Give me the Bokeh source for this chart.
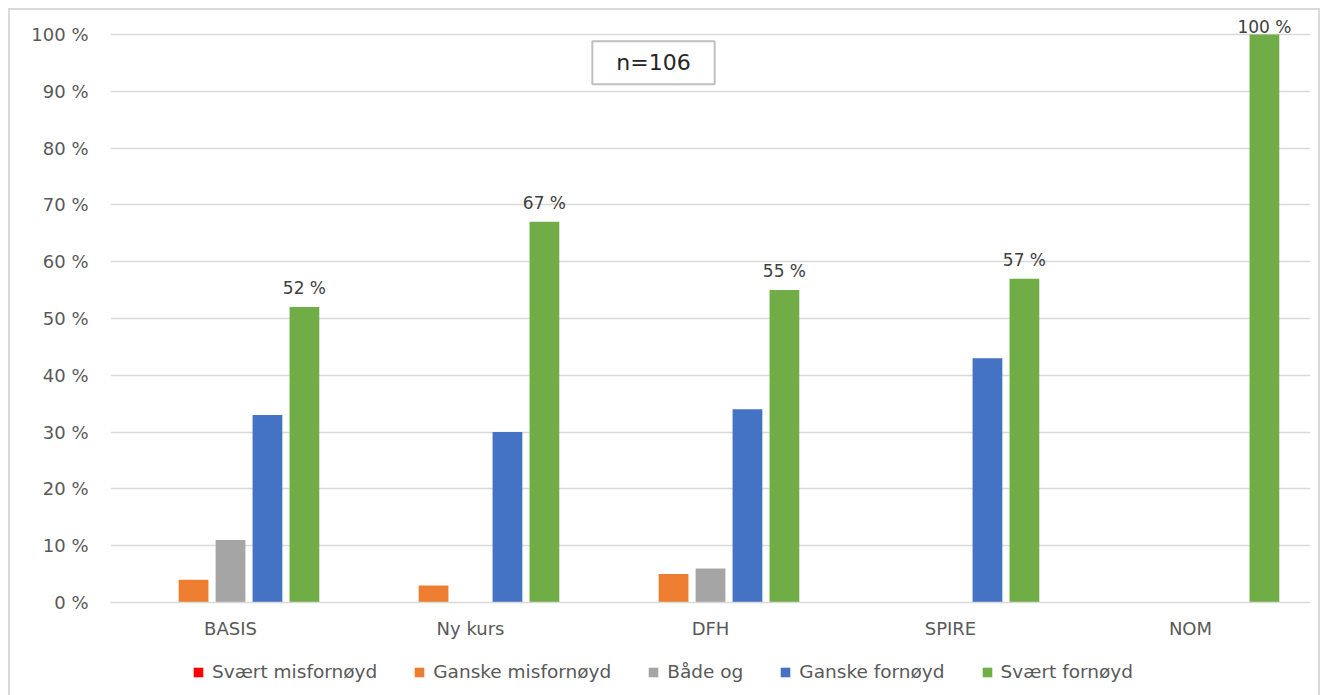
from bokeh.plotting import figure
from bokeh.layouts import column
from bokeh.models import (ColumnDataSource, FactorRange, Range1d, FixedTicker,
                          Legend, LegendItem, LabelSet, Label)
from bokeh.core.properties import value
from bokeh.transform import dodge
from bokeh.embed import file_html
from bokeh.resources import INLINE

categories = ["BASIS", "Ny kurs", "DFH", "SPIRE", "NOM"]
series_names = ["Svært misfornøyd", "Ganske misfornøyd", "Både og", "Ganske fornøyd", "Svært fornøyd"]
svaert_misfornoyd = [0, 0, 0, 0, 0]
ganske_misfornoyd = [4, 3, 5, 0, 0]
baade_og = [11, 0, 6, 0, 0]
ganske_fornoyd = [33, 30, 34, 43, 0]
svaert_fornoyd = [52, 67, 55, 57, 100]
green_labels = ["52 %", "67 %", "55 %", "57 %", "100 %"]
y_ticks = [0, 10, 20, 30, 40, 50, 60, 70, 80, 90, 100]
y_tick_labels = ["0 %", "10 %", "20 %", "30 %", "40 %", "50 %", "60 %", "70 %", "80 %", "90 %", "100 %"]
annotation_text = "n=106"

colors = ["#FF0000", "#ED7D31", "#A5A5A5", "#4472C4", "#70AD47"]
FONT = "DejaVu Sans"

# data labels are kept inside the plot area (as the original chart does)
LABEL_CAP = 98
label_anchor = [min(v, LABEL_CAP) for v in svaert_fornoyd]

source = ColumnDataSource(dict(
    cat=categories,
    s0=svaert_misfornoyd,
    s1=ganske_misfornoyd,
    s2=baade_og,
    s3=ganske_fornoyd,
    s4=svaert_fornoyd,
    lbl=green_labels,
    lbl_y=label_anchor,
))

W = 1308
p = figure(
    width=W, height=636,
    x_range=FactorRange(*categories, range_padding=0),
    y_range=Range1d(0, 103.5),
    output_backend="svg", toolbar_location=None,
    min_border_left=100, min_border_right=8, min_border_top=4, min_border_bottom=44,
)
p.background_fill_color = "white"
p.border_fill_color = "white"
p.outline_line_color = None

step = 0.154
offsets = [-2 * step, -step, 0, step, 2 * step]
for i, col in enumerate(colors):
    p.vbar(x=dodge("cat", offsets[i], range=p.x_range), top="s%d" % i, width=0.124,
           bottom=0, source=source, fill_color=col, line_color=None)

labels = LabelSet(x=dodge("cat", offsets[4], range=p.x_range), y="lbl_y", text="lbl",
                  source=source, text_align="center", text_baseline="alphabetic",
                  y_offset=13, text_font=value(FONT), text_font_size="17px", text_color="#404040")
p.add_layout(labels)

box = Label(x=2.2625, y=95.0, text=annotation_text, text_align="center", text_baseline="middle",
            text_font=FONT, text_font_size="22px", text_color="#262626",
            border_line_color="#bfbfbf", border_line_width=2, background_fill_color="white",
            padding=dict(left=24, right=24, top=9, bottom=9))
p.add_layout(box)

p.yaxis.ticker = FixedTicker(ticks=y_ticks)
p.yaxis.major_label_overrides = {t: l for t, l in zip(y_ticks, y_tick_labels)}
p.yaxis.axis_line_color = None
p.yaxis.major_tick_line_color = None
p.yaxis.minor_tick_line_color = None
p.yaxis.major_label_standoff = 16
p.yaxis.major_label_text_font = FONT
p.yaxis.major_label_text_font_size = "18px"
p.yaxis.major_label_text_color = "#595959"

p.xaxis.axis_line_color = "#d9d9d9"
p.xaxis.axis_line_width = 1.5
p.xaxis.major_tick_line_color = None
p.xaxis.minor_tick_line_color = None
p.xaxis.major_label_standoff = 9
p.xaxis.major_label_text_font = FONT
p.xaxis.major_label_text_font_size = "18px"
p.xaxis.major_label_text_color = "#595959"

p.xgrid.grid_line_color = None
p.ygrid.grid_line_color = "#d9d9d9"
p.ygrid.grid_line_width = 1.5

# legend strip (own small figure, bars there are outside its view)
leg_fig = figure(
    width=W, height=49,
    x_range=FactorRange(*categories, range_padding=0),
    y_range=Range1d(1000, 1001),
    x_axis_type=None, y_axis_type=None,
    output_backend="svg", toolbar_location=None,
    min_border_left=0, min_border_right=0, min_border_top=0, min_border_bottom=0,
)
leg_fig.outline_line_color = None
leg_fig.background_fill_color = "white"
leg_fig.border_fill_color = "white"
leg_renderers = []
for i, col in enumerate(colors):
    r = leg_fig.vbar(x=dodge("cat", offsets[i], range=leg_fig.x_range), top="s%d" % i,
                     width=0.124, bottom=0, source=source, fill_color=col, line_color=None)
    leg_renderers.append(r)

legend = Legend(
    items=[LegendItem(label=n, renderers=[r]) for n, r in zip(series_names, leg_renderers)],
    orientation="horizontal", location=(82, 13), spacing=36, label_standoff=8,
    glyph_width=12, glyph_height=12, padding=4, margin=0,
    border_line_color=None, background_fill_alpha=0,
    label_text_font=FONT, label_text_font_size="18.5px", label_text_color="#595959",
)
leg_fig.add_layout(legend, "center")

layout = column(p, leg_fig, spacing=0)
layout.styles = {"border-left": "2px solid #d9d9d9", "border-top": "2px solid #d9d9d9",
                 "border-right": "2px solid #d9d9d9", "margin-left": "8px", "margin-top": "8px"}

open("out.html", "w").write(file_html(layout, INLINE))
